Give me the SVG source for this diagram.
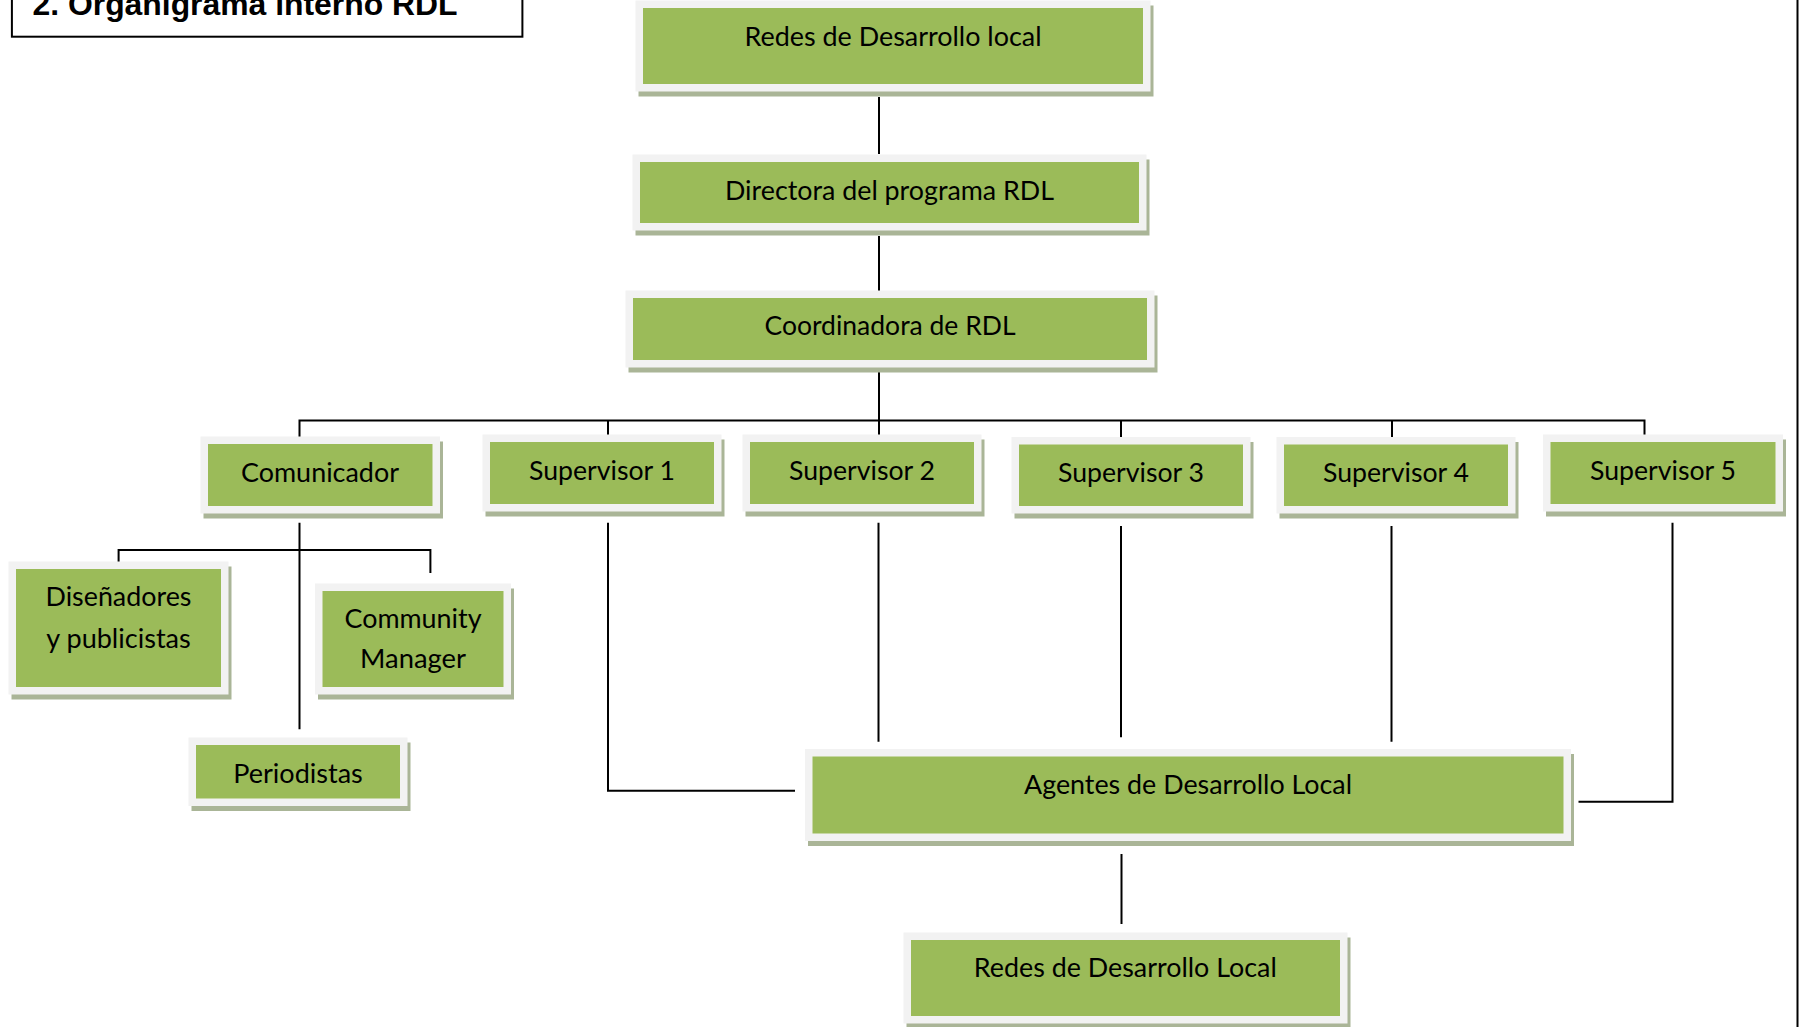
<svg xmlns="http://www.w3.org/2000/svg" width="1801" height="1027" viewBox="0 0 1801 1027">
<style>
.sh{fill:#aab597}
.fr{fill:#f2f2f2}
.bx{fill:#9bbb59}
.lbl{font-family:Lato,"Open Sans","DejaVu Sans",sans-serif;font-size:26.5px;fill:#000;text-anchor:middle}
.conn{stroke:#000;stroke-width:2;fill:none}
.title{font-family:"Liberation Sans",Arial,sans-serif;font-weight:bold;font-size:32px;fill:#000}
</style>
<rect x="0" y="0" width="1801" height="1027" fill="#fff"/>
<g id="title">
<rect x="11.9" y="-10" width="510.5" height="46.7" fill="none" stroke="#000" stroke-width="2"/>
<text class="title" x="32.5" y="15" textLength="425" lengthAdjust="spacingAndGlyphs">2. Organigrama interno RDL</text>
</g>
<line x1="1797.5" y1="0" x2="1797.5" y2="1027" stroke="#000" stroke-width="2"/>
<g id="connectors">
<path class="conn" d="M879 97V154M879 236V294M879 372V440"/>
<path class="conn" d="M299.5 440V420.5H1644.5V438"/>
<path class="conn" d="M608 420.5V439M1121 420.5V439M1392 420.5V441"/>
<path class="conn" d="M299.5 522.7V729.3M118.6 565V550H430.4V573"/>
<path class="conn" d="M608 522.7V790.7H795"/>
<path class="conn" d="M878.5 522.7V741.7M1121 526V737.3M1391.5 526V741.7"/>
<path class="conn" d="M1672.5 522.7V801.7H1578.5"/>
<path class="conn" d="M1121.5 854V924"/>
</g>
<g id="n_redes_top">
<rect class="sh" x="638.5" y="5.5" width="515" height="91"/>
<rect class="fr" x="635.5" y="0.5" width="515" height="91"/>
<rect class="bx" x="643" y="8" width="500" height="76"/>
<text class="lbl" x="893" y="46" textLength="297" lengthAdjust="spacingAndGlyphs">Redes de Desarrollo local</text>
</g>
<g id="n_directora">
<rect class="sh" x="635.5" y="159.5" width="514" height="76"/>
<rect class="fr" x="632.5" y="154.5" width="514" height="76"/>
<rect class="bx" x="640" y="162" width="499" height="61"/>
<text class="lbl" x="889.5" y="199.5" textLength="329" lengthAdjust="spacingAndGlyphs">Directora del programa RDL</text>
</g>
<g id="n_coordinadora">
<rect class="sh" x="628.5" y="295.5" width="529" height="77"/>
<rect class="fr" x="625.5" y="290.5" width="529" height="77"/>
<rect class="bx" x="633" y="298" width="514" height="62"/>
<text class="lbl" x="890" y="335" textLength="251" lengthAdjust="spacingAndGlyphs">Coordinadora de RDL</text>
</g>
<g id="n_comunicador">
<rect class="sh" x="203.5" y="441.5" width="239.5" height="77"/>
<rect class="fr" x="200.5" y="436.5" width="239.5" height="77"/>
<rect class="bx" x="208" y="444" width="224.5" height="62"/>
<text class="lbl" x="320" y="481.5" textLength="158" lengthAdjust="spacingAndGlyphs">Comunicador</text>
</g>
<g id="n_sup1">
<rect class="sh" x="485.5" y="439.5" width="239" height="77"/>
<rect class="fr" x="482.5" y="434.5" width="239" height="77"/>
<rect class="bx" x="490" y="442" width="224" height="62"/>
<text class="lbl" x="602" y="480" textLength="146" lengthAdjust="spacingAndGlyphs">Supervisor 1</text>
</g>
<g id="n_sup2">
<rect class="sh" x="745.5" y="439.5" width="239" height="77"/>
<rect class="fr" x="742.5" y="434.5" width="239" height="77"/>
<rect class="bx" x="750" y="442" width="224" height="62"/>
<text class="lbl" x="862" y="480" textLength="146" lengthAdjust="spacingAndGlyphs">Supervisor 2</text>
</g>
<g id="n_sup3">
<rect class="sh" x="1014.5" y="442" width="239" height="76.5"/>
<rect class="fr" x="1011.5" y="437" width="239" height="76.5"/>
<rect class="bx" x="1019" y="444.5" width="224" height="61.5"/>
<text class="lbl" x="1131" y="481.7" textLength="146" lengthAdjust="spacingAndGlyphs">Supervisor 3</text>
</g>
<g id="n_sup4">
<rect class="sh" x="1279.5" y="442" width="239" height="76.5"/>
<rect class="fr" x="1276.5" y="437" width="239" height="76.5"/>
<rect class="bx" x="1284" y="444.5" width="224" height="61.5"/>
<text class="lbl" x="1396" y="481.7" textLength="146" lengthAdjust="spacingAndGlyphs">Supervisor 4</text>
</g>
<g id="n_sup5">
<rect class="sh" x="1546" y="439.5" width="240" height="77"/>
<rect class="fr" x="1543" y="434.5" width="240" height="77"/>
<rect class="bx" x="1550.5" y="442" width="225" height="62"/>
<text class="lbl" x="1663" y="480" textLength="146" lengthAdjust="spacingAndGlyphs">Supervisor 5</text>
</g>
<g id="n_disenadores">
<rect class="sh" x="11.5" y="566.5" width="220" height="133"/>
<rect class="fr" x="8.5" y="561.5" width="220" height="133"/>
<rect class="bx" x="16" y="569" width="205" height="118"/>
<text class="lbl" x="118.5" y="606" textLength="146" lengthAdjust="spacingAndGlyphs">Diseñadores</text>
<text class="lbl" x="118.5" y="648.3" textLength="144.5" lengthAdjust="spacingAndGlyphs">y publicistas</text>
</g>
<g id="n_community">
<rect class="sh" x="318" y="588.5" width="196" height="111"/>
<rect class="fr" x="315" y="583.5" width="196" height="111"/>
<rect class="bx" x="322.5" y="591" width="181" height="96"/>
<text class="lbl" x="413" y="628.3" textLength="137" lengthAdjust="spacingAndGlyphs">Community</text>
<text class="lbl" x="413" y="668.3" textLength="106" lengthAdjust="spacingAndGlyphs">Manager</text>
</g>
<g id="n_periodistas">
<rect class="sh" x="191.5" y="742.5" width="219" height="68.5"/>
<rect class="fr" x="188.5" y="737.5" width="219" height="68.5"/>
<rect class="bx" x="196" y="745" width="204" height="53.5"/>
<text class="lbl" x="298" y="783.3" textLength="129.6" lengthAdjust="spacingAndGlyphs">Periodistas</text>
</g>
<g id="n_agentes">
<rect class="sh" x="808" y="754" width="766" height="92"/>
<rect class="fr" x="805" y="749" width="766" height="92"/>
<rect class="bx" x="812.5" y="756.5" width="751" height="77"/>
<text class="lbl" x="1188" y="794" textLength="328" lengthAdjust="spacingAndGlyphs">Agentes de Desarrollo Local</text>
</g>
<g id="n_redes_bottom">
<rect class="sh" x="906.5" y="937.5" width="444" height="91"/>
<rect class="fr" x="903.5" y="932.5" width="444" height="91"/>
<rect class="bx" x="911" y="940" width="429" height="76"/>
<text class="lbl" x="1125.3" y="977" textLength="303" lengthAdjust="spacingAndGlyphs">Redes de Desarrollo Local</text>
</g>
</svg>
